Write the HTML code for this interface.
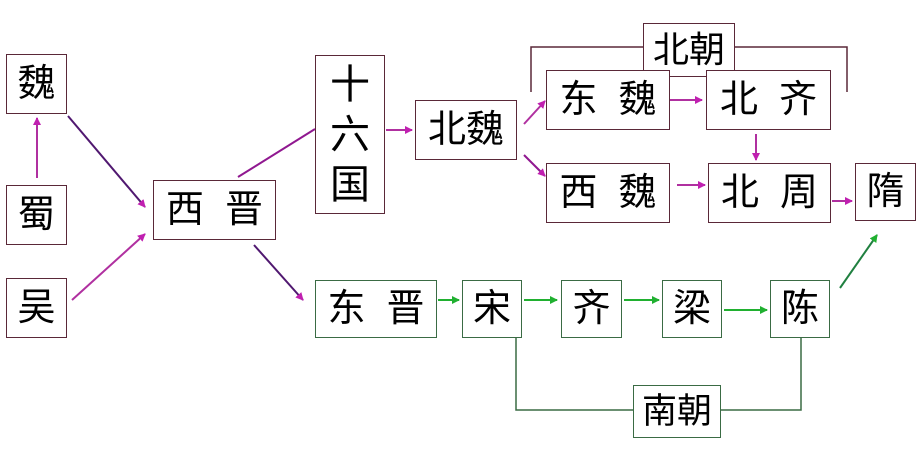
<!DOCTYPE html>
<html><head><meta charset="utf-8"><style>
body{margin:0;width:919px;height:464px;background:#fff;overflow:hidden;position:relative;font-family:"Liberation Sans","Noto Sans CJK SC",sans-serif}
.b{position:absolute;box-sizing:border-box;border:1.5px solid #5a2838;background:#fff;display:flex;align-items:center;justify-content:center;font-size:38px;color:#000;line-height:1}
.g{border-color:#3a6b44}
svg{position:absolute;left:0;top:0}
</style></head><body>
<svg width="919" height="464">
<defs>
<marker id="m" markerWidth="8" markerHeight="8" refX="7" refY="4" orient="auto" markerUnits="userSpaceOnUse"><path d="M0,0L8,4L0,8z" fill="#c020b0"/></marker>
<marker id="gr" markerWidth="8" markerHeight="8" refX="7" refY="4" orient="auto" markerUnits="userSpaceOnUse"><path d="M0,0L8,4L0,8z" fill="#20b030"/></marker>
</defs>
<g stroke-width="2" fill="none">
<line x1="37" y1="178" x2="37" y2="118" stroke="#b030a0" marker-end="url(#m)"/>
<line x1="68" y1="116" x2="145" y2="207" stroke="#501870" marker-end="url(#m)"/>
<line x1="72" y1="300" x2="145" y2="234" stroke="#b030a0" marker-end="url(#m)"/>
<line x1="238" y1="177" x2="315" y2="129" stroke="#901890"/>
<line x1="254" y1="245" x2="303" y2="300" stroke="#501870" marker-end="url(#m)"/>
<line x1="386" y1="130" x2="412" y2="130" stroke="#b030a0" marker-end="url(#m)"/>
<line x1="524" y1="124" x2="545" y2="101" stroke="#b030a0" marker-end="url(#m)"/>
<line x1="524" y1="155" x2="545" y2="176" stroke="#901890" marker-end="url(#m)"/>
<line x1="670" y1="100" x2="702" y2="100" stroke="#b030a0" marker-end="url(#m)"/>
<line x1="677" y1="185" x2="705" y2="185" stroke="#b030a0" marker-end="url(#m)"/>
<line x1="756" y1="134" x2="756" y2="160" stroke="#b030a0" marker-end="url(#m)"/>
<line x1="832" y1="201" x2="852" y2="201" stroke="#b030a0" marker-end="url(#m)"/>
<line x1="438" y1="300" x2="459" y2="300" stroke="#20b030" marker-end="url(#gr)"/>
<line x1="524" y1="300" x2="557" y2="300" stroke="#20b030" marker-end="url(#gr)"/>
<line x1="624" y1="300" x2="659" y2="300" stroke="#20b030" marker-end="url(#gr)"/>
<line x1="724" y1="310" x2="767" y2="310" stroke="#20b030" marker-end="url(#gr)"/>
<line x1="840" y1="288" x2="877" y2="235" stroke="#208040" marker-end="url(#gr)"/>
<polyline points="531,92 531,47 847,47 847,92" stroke="#5a2838" stroke-width="1.5"/>
<polyline points="516,338 516,410 801,410 801,338" stroke="#3a6b44" stroke-width="1.5"/>
</g>
</svg>
<div class="b" style="left:6px;top:54px;width:61px;height:60px">魏</div>
<div class="b" style="left:6px;top:185px;width:61px;height:60px">蜀</div>
<div class="b" style="left:6px;top:278px;width:61px;height:60px">吴</div>
<div class="b" style="left:153px;top:180px;width:123px;height:60px">西&nbsp;&nbsp;晋</div>
<div class="b" style="left:315px;top:55px;width:70px;height:159px;flex-direction:column;font-size:40px;line-height:50px">十<br>六<br>国</div>
<div class="b" style="left:415px;top:100px;width:102px;height:60px">北魏</div>
<div class="b" style="left:643px;top:23px;width:92px;height:54px;font-size:36px">北朝</div>
<div class="b" style="left:546px;top:70px;width:124px;height:60px">东&nbsp;&nbsp;魏</div>
<div class="b" style="left:706px;top:70px;width:125px;height:60px">北&nbsp;&nbsp;齐</div>
<div class="b" style="left:546px;top:163px;width:124px;height:60px">西&nbsp;&nbsp;魏</div>
<div class="b" style="left:708px;top:163px;width:123px;height:60px">北&nbsp;&nbsp;周</div>
<div class="b" style="left:855px;top:163px;width:61px;height:58px">隋</div>
<div class="b g" style="left:315px;top:280px;width:122px;height:58px">东&nbsp;&nbsp;晋</div>
<div class="b g" style="left:462px;top:280px;width:60px;height:58px">宋</div>
<div class="b g" style="left:561px;top:280px;width:61px;height:58px">齐</div>
<div class="b g" style="left:662px;top:280px;width:60px;height:58px">梁</div>
<div class="b g" style="left:770px;top:280px;width:60px;height:58px">陈</div>
<div class="b g" style="left:633px;top:385px;width:88px;height:53px;font-size:35px">南朝</div>
</body></html>
